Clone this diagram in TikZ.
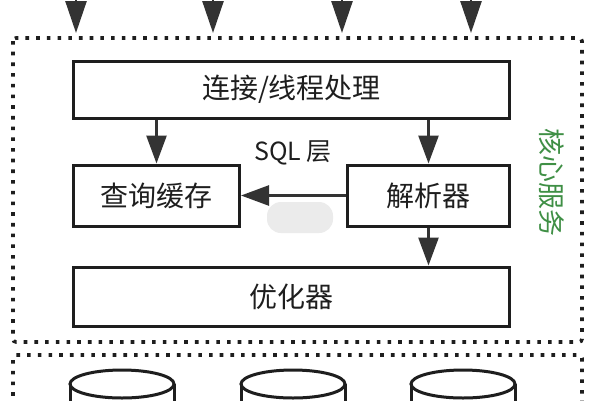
\documentclass[tikz,border=0pt]{standalone}
\usepackage{fontspec}
\newfontfamily\cjk{Noto Sans CJK SC}
\usetikzlibrary{arrows.meta}
\definecolor{ink}{HTML}{1E1E1E}
\definecolor{arrowc}{HTML}{333333}
\definecolor{svcgreen}{HTML}{3F8F45}
\definecolor{blob}{HTML}{EBEBEB}
\tikzset{
  stepbox/.style={draw=ink, line width=3pt, rectangle, inner sep=0pt, font=\cjk\fontsize{28}{30}\selectfont, text=ink},
  flow/.style={draw=arrowc, line width=2.6pt, -{Triangle[length=28pt,width=20pt]}, arrowc},
  bigflow/.style={draw=arrowc, line width=2.6pt, -{Triangle[length=32pt,width=21pt]}, arrowc},
  dotframe/.style={draw=ink, line width=3.6pt, dash pattern=on 3.6pt off 7.1pt, rounded corners=3pt},
  dbstyle/.style={draw=ink, line width=3pt},
}
\begin{document}
\begin{tikzpicture}[x=1pt,y=-1pt]
\useasboundingbox (0,0) rectangle (600,400);
\clip (0,0) rectangle (600,400);
\fill[white] (0,0) rectangle (600,400);

% dotted frames
\draw[dotframe] (13,38) rectangle (582,342);
\draw[dotframe] (13,460) -- (13,355) -- (582,355) -- (582,460);

% boxes
\node[stepbox, minimum width=436pt, minimum height=57pt] (conn) at (291.5,89.5) {连接/线程处理};
\node[stepbox, minimum width=166pt, minimum height=61pt] (cache) at (156.5,195.5) {查询缓存};
\node[stepbox, minimum width=162pt, minimum height=61pt] (parser) at (428.5,195.5) {解析器};
\node[stepbox, minimum width=436pt, minimum height=59pt] (opt) at (291.5,296.5) {优化器};

% label
\node[font=\cjk\fontsize{25}{27}\selectfont, text=ink] (sql) at (293,153) {SQL 层};

% watermark-like blob
\node[fill=blob, rounded corners=14pt, minimum width=66pt, minimum height=31pt, inner sep=0pt] (blobn) at (300,217.5) {};

% vertical green text
\node[font=\cjk\fontsize{27}{29}\selectfont, text=svcgreen, rotate=-90] (svc) at (552,182) {核心服务};

% top input arrows
\coordinate (in1) at (76,-12);
\coordinate (in2) at (213,-12);
\coordinate (in3) at (342,-12);
\coordinate (in4) at (471,-12);
\coordinate (t1) at (76,33);
\coordinate (t2) at (213,33);
\coordinate (t3) at (342,33);
\coordinate (t4) at (471,33);
\foreach \i in {1,2,3,4} \draw[bigflow] (in\i) -- (t\i);

% internal arrows
\draw[flow] (cache.north |- conn.south) -- (cache.north);
\draw[flow] (parser.north |- conn.south) -- (parser.north);
\draw[flow] (parser.west) -- (cache.east);
\draw[flow] (parser.south) -- (parser.south |- opt.north);

% storage cylinders (top parts)
\foreach \c/\n in {122/db1,293/db2,463/db3} {
  \coordinate (\n) at (\c,384);
  \draw[dbstyle, fill=white] (\n) ellipse [x radius=52pt, y radius=14pt];
  \draw[dbstyle] ([xshift=-52pt]\n) -- ++(0,30);
  \draw[dbstyle] ([xshift=52pt]\n) -- ++(0,30);
}
\end{tikzpicture}
\end{document}
